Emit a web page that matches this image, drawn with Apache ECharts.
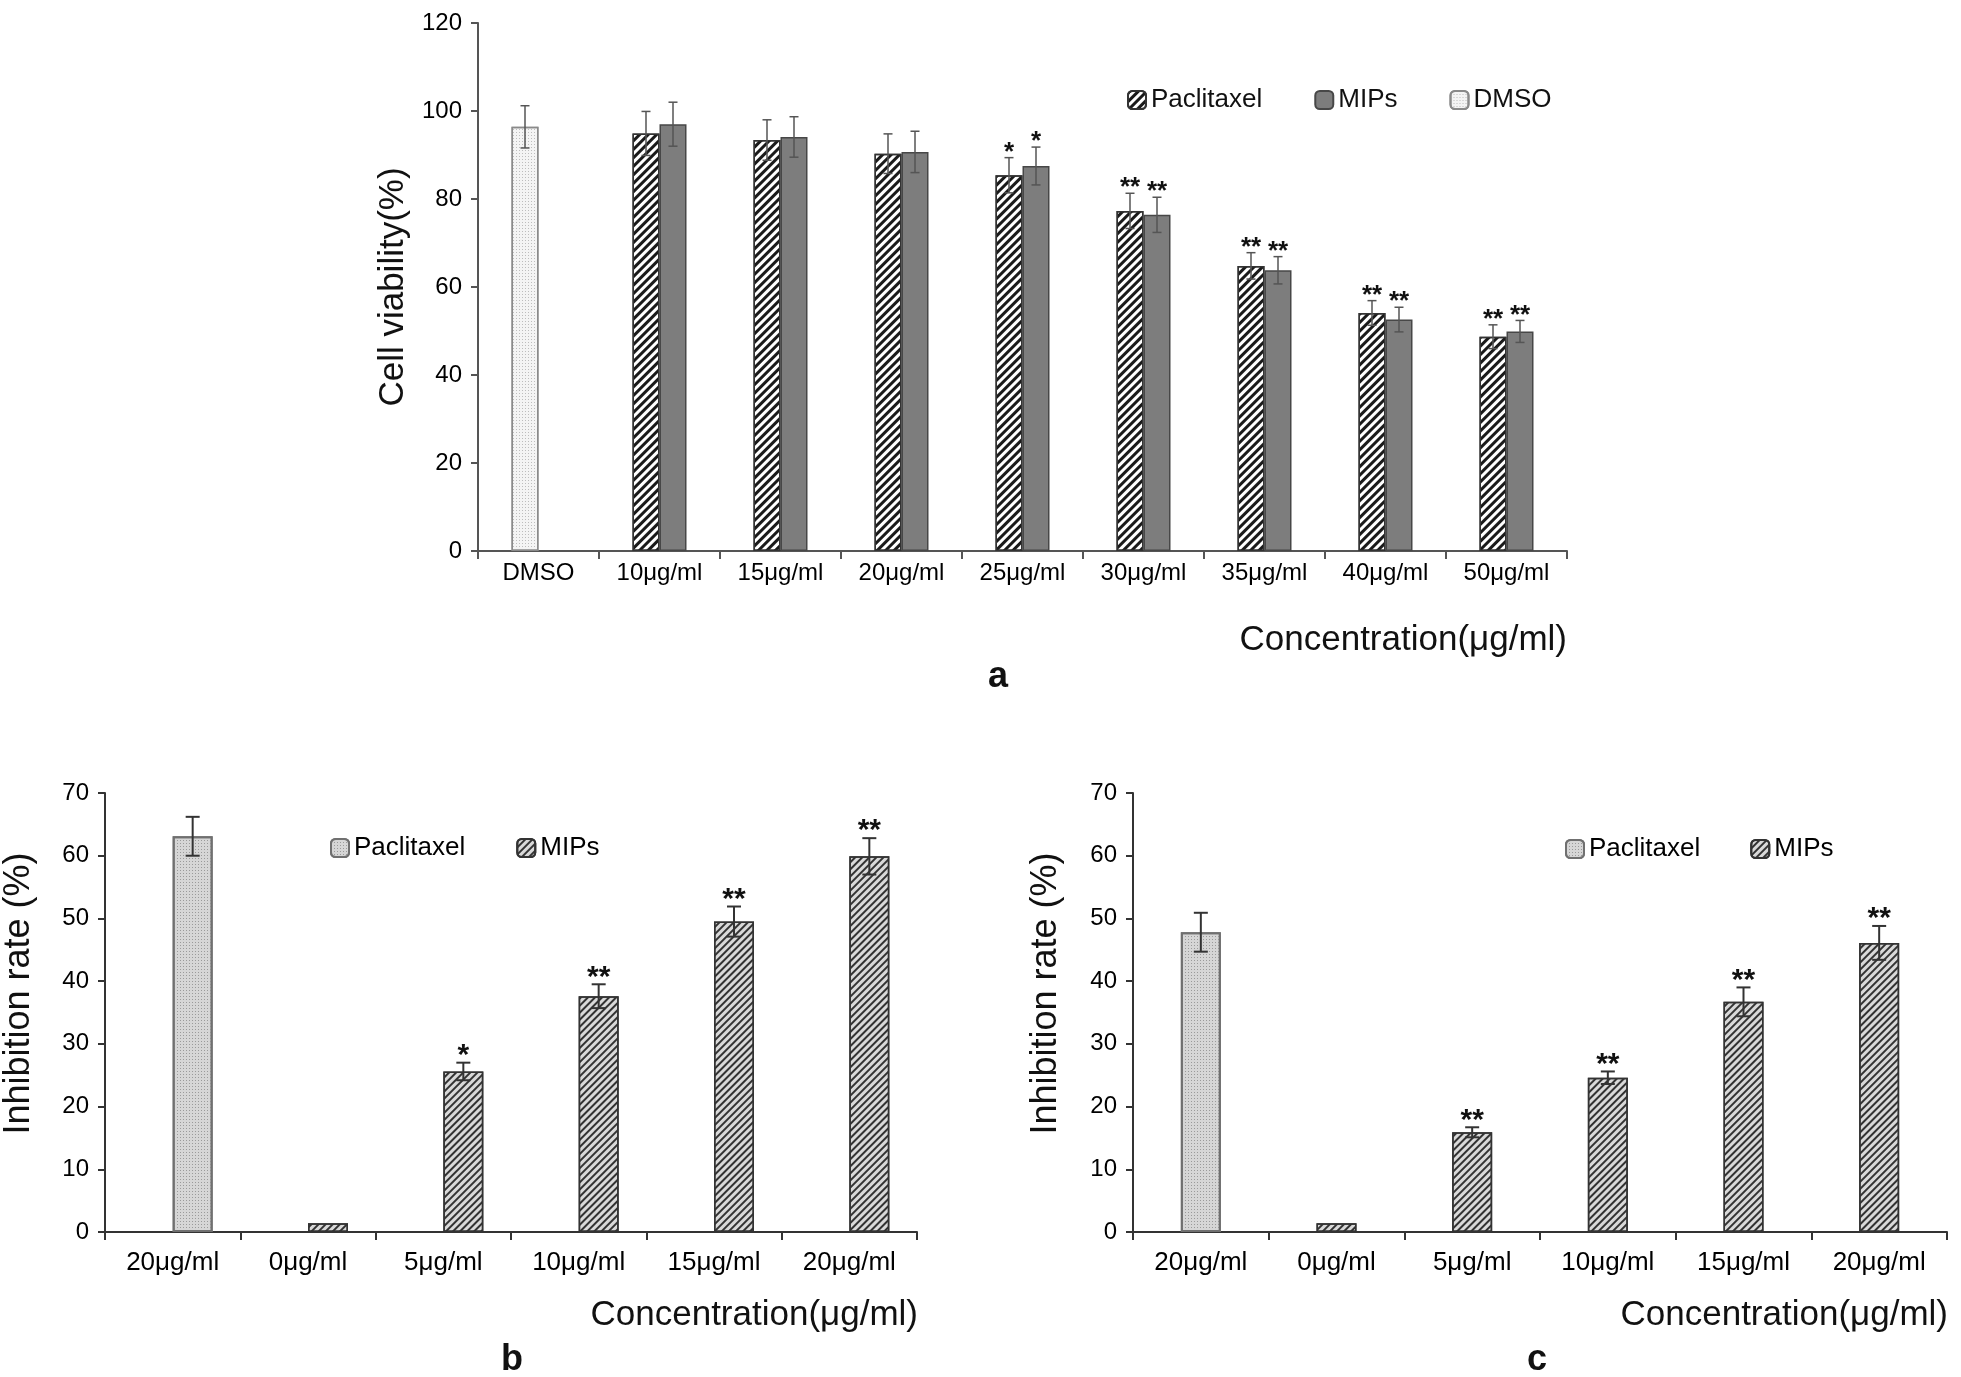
<!DOCTYPE html>
<html>
<head>
<meta charset="utf-8">
<script src="https://cdn.jsdelivr.net/npm/echarts@6/dist/echarts.min.js"></script>
<style>html,body{margin:0;padding:0;background:#fff}#c{width:1961px;height:1377px}</style>
</head>
<body>
<div id="c"></div>
<script>
// ---- Panel a data ----
const aCategories = ['DMSO','10μg/ml','15μg/ml','20μg/ml','25μg/ml','30μg/ml','35μg/ml','40μg/ml','50μg/ml'];
const aPaclitaxel = [null, 94.9, 93.4, 90.3, 85.4, 77.3, 64.8, 54.1, 48.7];
const aPaclitaxelErr = [null, 5.0, 4.6, 4.5, 4.0, 4.0, 3.0, 2.8, 2.7];
const aMIPs = [null, 97.0, 94.1, 90.7, 87.5, 76.4, 63.8, 52.6, 49.9];
const aMIPsErr = [null, 5.0, 4.6, 4.7, 4.3, 4.0, 3.1, 2.8, 2.5];
const aDMSO = [96.4, null, null, null, null, null, null, null, null];
const aDMSOErr = [4.8, null, null, null, null, null, null, null, null];
const aPaclitaxelStars = ['', '', '', '', '*', '**', '**', '**', '**'];
const aMIPsStars = ['', '', '', '', '*', '**', '**', '**', '**'];
const aYTicks = {min: 0, max: 120, interval: 20};

// ---- Panel b data ----
const bCategories = ['20μg/ml','0μg/ml','5μg/ml','10μg/ml','15μg/ml','20μg/ml'];
const bPaclitaxel = [63.1, null, null, null, null, null];
const bPaclitaxelErr = [3.1, null, null, null, null, null];
const bMIPs = [null, 1.4, 25.6, 37.6, 49.5, 59.9];
const bMIPsErr = [null, 0, 1.4, 1.9, 2.4, 2.9];
const bMIPsStars = ['', '', '*', '**', '**', '**'];

// ---- Panel c data ----
const cCategories = ['20μg/ml','0μg/ml','5μg/ml','10μg/ml','15μg/ml','20μg/ml'];
const cPaclitaxel = [47.8, null, null, null, null, null];
const cPaclitaxelErr = [3.1, null, null, null, null, null];
const cMIPs = [null, 1.4, 15.9, 24.6, 36.7, 46.1];
const cMIPsErr = [null, 0, 0.8, 1.0, 2.3, 2.7];
const cMIPsStars = ['', '', '**', '**', '**', '**'];
const bcYTicks = {min: 0, max: 70, interval: 10};

const FF = "'Liberation Sans', Arial, Helvetica, sans-serif";

const hatchA = {symbol:'rect', symbolSize:1, dashArrayX:[1,0], dashArrayY:[3,3], rotation:-Math.PI/4, color:'#1a1a1a'};
const dotsA  = {symbol:'rect', symbolSize:1, dashArrayX:[1,2], dashArrayY:[1,2], rotation:0, color:'#bdbdbd'};
const hatchB = {symbol:'rect', symbolSize:1, dashArrayX:[1,0], dashArrayY:[2,2.5], rotation:-Math.PI/4, color:'#333'};
const dotsB  = {symbol:'rect', symbolSize:1, dashArrayX:[1,1.5], dashArrayY:[1,1.5], rotation:0, color:'#9a9a9a'};

function errSeries(axisIdx, vals, errs, stars, offset, capW, color, lw, starFont, starGap) {
  const data = [];
  vals.forEach((v, i) => { if (v != null) data.push([i, v, errs[i] || 0]); });
  return {
    type: 'custom', xAxisIndex: axisIdx, yAxisIndex: axisIdx, z: 10, silent: true,
    encode: {x: 0, y: 1},
    data: data,
    renderItem: function (params, api) {
      const i = api.value(0), v = api.value(1), e = api.value(2);
      const top = api.coord([i, v + e]);
      const bot = api.coord([i, v - e]);
      const x = top[0] + offset;
      const ch = [];
      if (e > 0) {
        const ls = {stroke: color, lineWidth: lw};
        ch.push({type:'line', shape:{x1:x, y1:top[1], x2:x, y2:bot[1]}, style: ls});
        ch.push({type:'line', shape:{x1:x-capW/2, y1:top[1], x2:x+capW/2, y2:top[1]}, style: ls});
        ch.push({type:'line', shape:{x1:x-capW/2, y1:bot[1], x2:x+capW/2, y2:bot[1]}, style: ls});
      }
      const s = stars ? stars[i] : '';
      if (s) {
        ch.push({type:'text', style:{text: s, x: x, y: top[1] + starGap, align:'center', verticalAlign:'bottom', font: starFont, fill:'#111'}});
      }
      return {type:'group', children: ch};
    }
  };
}

function xAxisCfg(gridIndex, cats, color, fontSize, margin) {
  return {
    type:'category', gridIndex, data: cats,
    axisLine:{show:true, lineStyle:{color, width:2}},
    axisTick:{show:true, length:8, lineStyle:{color, width:2}},
    axisLabel:{interval:0, margin, fontSize, color:'#000', fontFamily:FF},
    splitLine:{show:false}
  };
}
function yAxisCfg(gridIndex, ticks, name, nameGap, nameSize, namePadding, color) {
  return {
    type:'value', gridIndex, min:ticks.min, max:ticks.max, interval:ticks.interval,
    name, nameLocation:'middle', nameGap, nameRotate:90,
    nameTextStyle:{fontSize:nameSize, color:'#111', fontFamily:FF, padding:namePadding},
    axisLine:{show:true, lineStyle:{color, width:2}},
    axisTick:{show:true, length:7, lineStyle:{color, width:2}},
    axisLabel:{margin:16, fontSize:24, color:'#000', fontFamily:FF},
    splitLine:{show:false}
  };
}

const option = {
  animation: false,
  backgroundColor: '#fff',
  grid: [
    {left: 478, top: 23, right: 1961 - 1567, bottom: 1377 - 551},
    {left: 103, top: 793, right: 1961 - 917, bottom: 1377 - 1232},
    {left: 1133, top: 793, right: 1961 - 1947, bottom: 1377 - 1232}
  ],
  xAxis: [
    xAxisCfg(0, aCategories, '#555', 24, 10),
    xAxisCfg(1, bCategories, '#333', 26, 18),
    xAxisCfg(2, cCategories, '#333', 26, 18)
  ],
  yAxis: [
    yAxisCfg(0, aYTicks, 'Cell viability(%)', 63, 35, [0, 0, 0, 0], '#555'),
    yAxisCfg(1, bcYTicks, 'Inhibition rate (%)', 68, 36, [0, 0, 0, 38], '#333'),
    yAxisCfg(2, bcYTicks, 'Inhibition rate (%)', 69, 36, [0, 0, 0, 38], '#333')
  ],
  legend: [
    {left: 1122, top: 82, itemWidth: 18, itemHeight: 18, itemGap: 52, selectedMode: false,
     data: ['a:Paclitaxel', 'a:MIPs', 'a:DMSO'], formatter: n => n.split(':')[1],
     textStyle: {fontSize: 26, color: '#111', fontFamily: FF}},
    {left: 325, top: 830, itemWidth: 18, itemHeight: 18, itemGap: 51, selectedMode: false,
     data: ['b:Paclitaxel', 'b:MIPs'], formatter: n => n.split(':')[1],
     textStyle: {fontSize: 26, color: '#000', fontFamily: FF}},
    {left: 1560, top: 831, itemWidth: 18, itemHeight: 18, itemGap: 50, selectedMode: false,
     data: ['c:Paclitaxel', 'c:MIPs'], formatter: n => n.split(':')[1],
     textStyle: {fontSize: 26, color: '#000', fontFamily: FF}}
  ],
  graphic: [
    {type:'text', x:1567, y:640, style:{text:'Concentration(μg/ml)', font:'35px ' + FF, align:'right', verticalAlign:'middle', fill:'#111'}},
    {type:'text', x:918, y:1315, style:{text:'Concentration(μg/ml)', font:'35px ' + FF, align:'right', verticalAlign:'middle', fill:'#111'}},
    {type:'text', x:1948, y:1315, style:{text:'Concentration(μg/ml)', font:'35px ' + FF, align:'right', verticalAlign:'middle', fill:'#111'}},
    {type:'text', x:998, y:677, style:{text:'a', font:'bold 36px ' + FF, align:'center', verticalAlign:'middle', fill:'#111'}},
    {type:'text', x:512, y:1360, style:{text:'b', font:'bold 36px ' + FF, align:'center', verticalAlign:'middle', fill:'#111'}},
    {type:'text', x:1537, y:1360, style:{text:'c', font:'bold 36px ' + FF, align:'center', verticalAlign:'middle', fill:'#111'}}
  ],
  series: [
    // panel a
    {type:'bar', name:'a:Paclitaxel', xAxisIndex:0, yAxisIndex:0, stack:'aP', barWidth:27, barGap:'0%', data:aPaclitaxel,
     itemStyle:{color:'#fff', borderColor:'#333', borderWidth:1.5, decal:hatchA}},
    {type:'bar', name:'a:MIPs', xAxisIndex:0, yAxisIndex:0, stack:'aM', barWidth:27, barGap:'0%', data:aMIPs,
     itemStyle:{color:'#7d7d7d', borderColor:'#474747', borderWidth:1.5}},
    {type:'bar', name:'a:DMSO', xAxisIndex:0, yAxisIndex:0, stack:'aP', barWidth:27, barGap:'0%', data:aDMSO,
     itemStyle:{color:'#f4f4f4', borderColor:'#8a8a8a', borderWidth:1.5, decal:dotsA}},
    errSeries(0, aPaclitaxel, aPaclitaxelErr, aPaclitaxelStars, -13.5, 9, '#555', 1.5, 'bold 26px ' + FF, 8),
    errSeries(0, aMIPs, aMIPsErr, aMIPsStars, 13.5, 9, '#555', 1.5, 'bold 26px ' + FF, 8),
    errSeries(0, aDMSO, aDMSOErr, null, -13.5, 9, '#555', 1.5, 'bold 26px ' + FF, 8),
    // panel b (first, empty series keeps the left slot of each category)
    {type:'bar', name:'b:slot', xAxisIndex:1, yAxisIndex:1, barWidth:40, barGap:'0%', data:[]},
    {type:'bar', name:'b:Paclitaxel', xAxisIndex:1, yAxisIndex:1, stack:'bS', barWidth:40, barGap:'0%', data:bPaclitaxel,
     itemStyle:{color:'#d6d6d6', borderColor:'#707070', borderWidth:2, decal:dotsB}},
    {type:'bar', name:'b:MIPs', xAxisIndex:1, yAxisIndex:1, stack:'bS', barWidth:40, barGap:'0%', data:bMIPs,
     itemStyle:{color:'#d9d9d9', borderColor:'#333', borderWidth:1.5, decal:hatchB}},
    errSeries(1, bPaclitaxel, bPaclitaxelErr, null, 20, 14, '#333', 2, 'bold 30px ' + FF, 8),
    errSeries(1, bMIPs, bMIPsErr, bMIPsStars, 20, 14, '#333', 2, 'bold 30px ' + FF, 8),
    // panel c
    {type:'bar', name:'c:Paclitaxel', xAxisIndex:2, yAxisIndex:2, stack:'cS', barWidth:40, barGap:'0%', data:cPaclitaxel,
     itemStyle:{color:'#d6d6d6', borderColor:'#707070', borderWidth:2, decal:dotsB}},
    {type:'bar', name:'c:MIPs', xAxisIndex:2, yAxisIndex:2, stack:'cS', barWidth:40, barGap:'0%', data:cMIPs,
     itemStyle:{color:'#d9d9d9', borderColor:'#333', borderWidth:1.5, decal:hatchB}},
    errSeries(2, cPaclitaxel, cPaclitaxelErr, null, 0, 14, '#333', 2, 'bold 30px ' + FF, 8),
    errSeries(2, cMIPs, cMIPsErr, cMIPsStars, 0, 14, '#333', 2, 'bold 30px ' + FF, 8)
  ]
};

const chart = echarts.init(document.getElementById('c'), null, {renderer:'canvas', width:1961, height:1377});
chart.setOption(option);
</script>
</body>
</html>
